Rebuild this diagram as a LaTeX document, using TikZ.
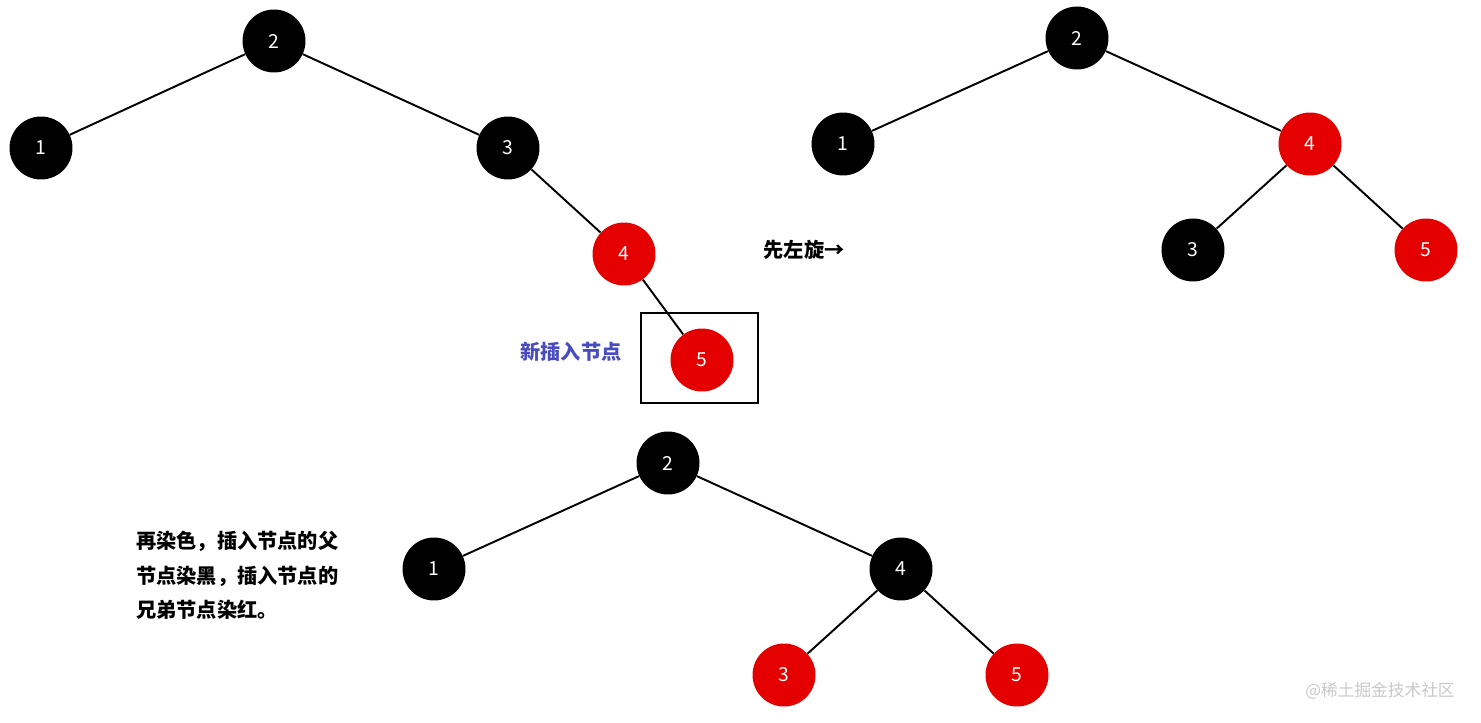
\documentclass[tikz,border=0pt]{standalone}
\usepackage{fontspec}
\setmainfont{Noto Sans CJK SC}
\usetikzlibrary{positioning}
\usepackage{xcolor}

\begin{document}
\begin{tikzpicture}[
    x=0.02cm, y=-0.02cm,
    font=\sffamily,
    blacknode/.style={
        circle,
        fill=black,
        minimum size=1.26cm,
        inner sep=0pt,
        text=white,
        font=\fontsize{11}{13}\selectfont
    },
    rednode/.style={
        blacknode,
        fill=rbred
    },
    edge/.style={
        draw=black,
        line width=1.1pt
    },
    note/.style={
        font=\fontsize{11.5}{19.5}\selectfont\bfseries,
        inner sep=0pt
    }
]

% ---------------------------------
% Colors
% ---------------------------------
\colorlet{rbred}{red!90!black}
\definecolor{notecol}{RGB}{72,76,192}
\definecolor{markcol}{RGB}{200,200,200}

\useasboundingbox (0,0) rectangle (1481,723);

% ---------------------------------
% Top left: after insertion
% ---------------------------------
\node[blacknode] (a2) at (274, 41) {2};
\node[blacknode] (a1) at (41, 148) {1};
\node[blacknode] (a3) at (508, 148) {3};
\node[rednode]   (a4) at (624, 254) {4};
\node[rednode]   (a5) at (702, 360) {5};

\draw[edge] (a2) -- (a1);
\draw[edge] (a2) -- (a3);
\draw[edge] (a3) -- (a4);
\draw[edge] (a4) -- (a5);

\node[draw, line width=0.8pt, minimum width=2.34cm, minimum height=1.8cm,
      inner sep=0pt] (newbox) at (699.5, 358) {};
\node[note, text=notecol] (newlabel) at (571, 352) {新插入节点};

% ---------------------------------
% Top right: left rotation
% ---------------------------------
\node[note] (rotlabel) at (804, 250) {先左旋→};

\node[blacknode] (b2) at (1077, 38) {2};
\node[blacknode] (b1) at (843, 144) {1};
\node[rednode]   (b4) at (1310, 144) {4};
\node[blacknode] (b3) at (1193, 250) {3};
\node[rednode]   (b5) at (1426, 250) {5};

\draw[edge] (b2) -- (b1);
\draw[edge] (b2) -- (b4);
\draw[edge] (b4) -- (b3);
\draw[edge] (b4) -- (b5);

% ---------------------------------
% Bottom: recolouring
% ---------------------------------
\node[note, anchor=north west, align=left] (colorlabel) at (136, 531) {
    再染色，插入节点的父\\
    节点染黑，插入节点的\\
    兄弟节点染红。
};

\node[blacknode] (c2) at (668, 463) {2};
\node[blacknode] (c1) at (434, 569) {1};
\node[blacknode] (c4) at (901, 569) {4};
\node[rednode]   (c3) at (784, 675) {3};
\node[rednode]   (c5) at (1017, 675) {5};

\draw[edge] (c2) -- (c1);
\draw[edge] (c2) -- (c4);
\draw[edge] (c4) -- (c3);
\draw[edge] (c4) -- (c5);

\node[text=markcol, font=\fontsize{9.5}{11}\selectfont, inner sep=0pt]
    (mark) at (1380, 691) {@稀土掘金技术社区};

\end{tikzpicture}
\end{document}
